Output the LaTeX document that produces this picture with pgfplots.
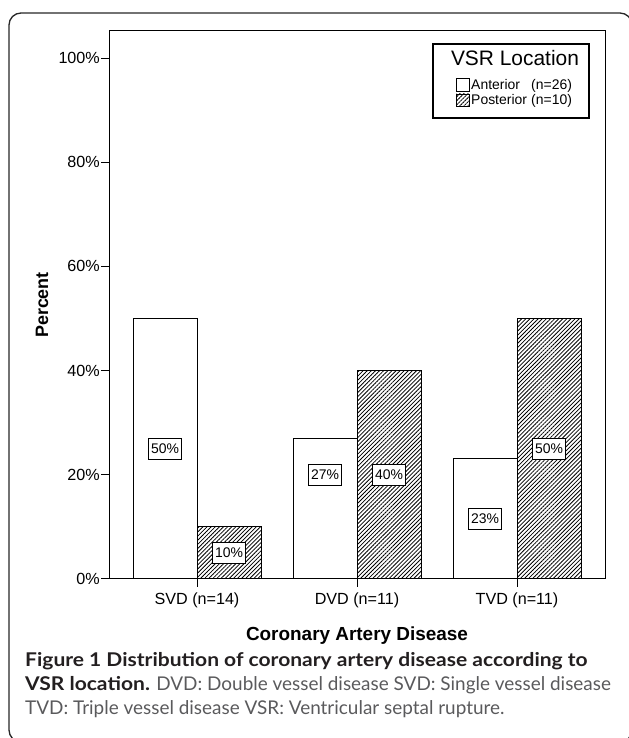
\documentclass[border=0pt]{standalone}
\usepackage{fontspec}
\setmainfont{Liberation Sans}
\newfontfamily\capfont{Lato}[BoldFeatures={FakeStretch=1.11}]
\usepackage{pgfplots}
\pgfplotsset{compat=1.18}
\usetikzlibrary{patterns.meta}
\definecolor{captext}{HTML}{5A5A5C}
\definecolor{capbold}{HTML}{231F20}
\tikzset{hatch/.style={pattern={Lines[angle=45,distance=2.9bp,line width=0.8bp]}}}

\begin{document}
\begin{tikzpicture}[x=1bp,y=1bp]
\useasboundingbox (0,0) rectangle (629,738);
% outer frame
\draw[line width=1.3bp, rounded corners=12bp, black!85] (9,-4) rectangle (632,725);

\begin{axis}[
    at={(109bp,159bp)}, anchor=south west,
    scale only axis, width=496bp, height=548bp,
    xmin=-0.55, xmax=2.55, ymin=0, ymax=105.2,
    xtick={0,1,2},
    xticklabels={SVD (n=14),DVD (n=11),TVD (n=11)},
    ytick={0,20,40,60,80,100},
    yticklabels={0\%,20\%,40\%,60\%,80\%,100\%},
    tick align=outside, tick pos=left,
    major tick length=8bp,
    tick style={black, line width=1bp},
    axis line style={line width=1bp, black},
    ticklabel style={font=\fontsize{16.2}{19}\selectfont},
    xticklabel style={inner sep=0pt, yshift=-6bp},
    yticklabel style={inner sep=0pt, xshift=-1bp},
    xlabel={Coronary Artery Disease},
    ylabel={Percent},
    xlabel style={at={(axis description cs:0.5,-0.1131)}, anchor=base,
        font=\fontsize{19}{23}\selectfont\bfseries},
    ylabel style={at={(axis description cs:-0.135,0.5)}, anchor=center,
        font=\fontsize{18}{21}\selectfont\bfseries},
]
\addplot[ybar, bar width=64bp, bar shift=-32bp, draw=black, fill=white, line width=0.9bp]
    coordinates {(0,50) (1,26.9) (2,23.1)};
\addplot[ybar, bar width=64bp, bar shift=32bp, draw=black, hatch, line width=0.9bp]
    coordinates {(0,10) (1,40) (2,50)};
\addplot[black, only marks, mark=none, point meta=explicit symbolic,
    nodes near coords,
    nodes near coords style={anchor=center, draw=black, fill=white, text=black,
        line width=0.8bp, font=\fontsize{14}{16}\selectfont,
        inner xsep=2.5bp, inner ysep=0pt, minimum height=21bp}]
    coordinates {(-0.2,25)[50\%] (0.2,5)[10\%] (0.8,20)[27\%]
                 (1.2,20)[40\%] (1.8,11.5)[23\%] (2.2,25)[50\%]};
\draw[line width=1bp, black] (rel axis cs:0,0) rectangle (rel axis cs:1,1);
\end{axis}

% legend
\draw[line width=1.1bp] (433,620) rectangle (589,694);
\node[anchor=base, inner sep=0pt, font=\fontsize{21}{25}\selectfont] at (515,672) {VSR Location};
\draw[line width=0.8bp, fill=white] (456,647) rectangle (469,660);
\draw[line width=0.8bp, hatch] (456,632) rectangle (469,644);
\begin{scope}[every node/.style={anchor=base west, inner sep=0pt, font=\fontsize{14}{16}\selectfont}]
\node at (471,648) {Anterior};
\node at (531,648) {(n=26)};
\node at (471,633) {Posterior};
\node at (531,633) {(n=10)};
\end{scope}

% caption
\begin{scope}[every node/.style={anchor=base west, inner sep=0pt, font=\capfont\fontsize{19}{23}\selectfont}]
\node[text=capbold] at (25,71) {\bfseries Figure 1 Distribution of coronary artery disease according to};
\node at (25,47) {\textcolor{capbold}{\bfseries VSR location.} \textcolor{captext}{DVD: Double vessel disease SVD: Single vessel disease}};
\node[text=captext] at (25,23) {TVD: Triple vessel disease VSR: Ventricular septal rupture.};
\end{scope}
\end{tikzpicture}
\end{document}
